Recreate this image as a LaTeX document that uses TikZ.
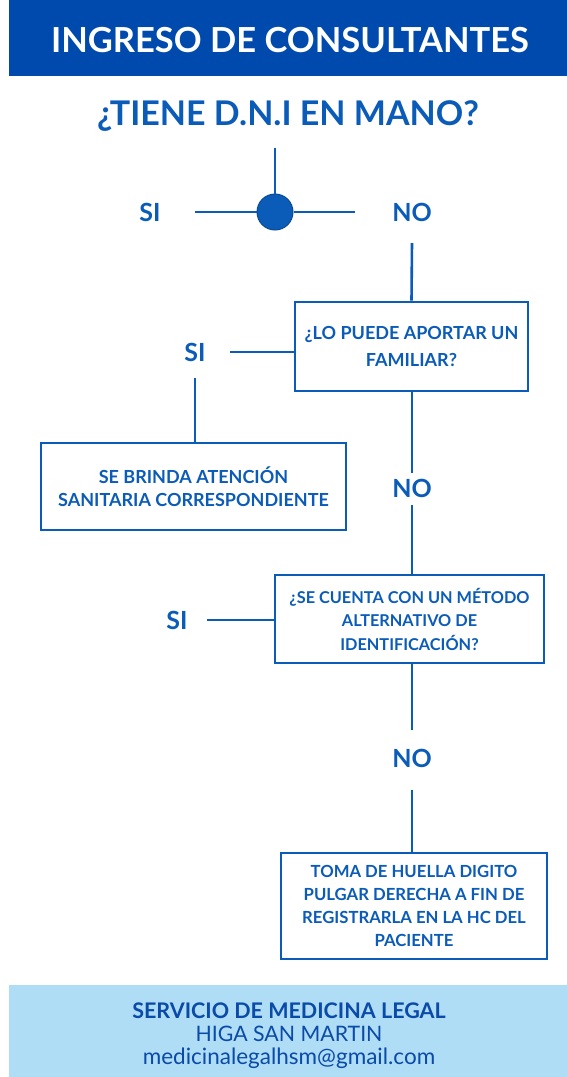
\documentclass[tikz,border=0pt]{standalone}
\usepackage{fontspec}
\setmainfont{Lato}
\definecolor{hdr}{HTML}{004AAD}
\definecolor{flow}{HTML}{0B5CB8}
\definecolor{foot}{HTML}{AFDDF6}
\definecolor{foottxt}{HTML}{0A4AA8}
\begin{document}
\begin{tikzpicture}[x=1pt,y=-1pt,
  line/.style={draw=flow,line width=2.6pt},
  box/.style={draw=flow,line width=2.6pt,rectangle,inner sep=0pt,align=center,text=flow,font=\fontsize{18}{23.5}\selectfont\bfseries},
  lbl/.style={text=flow,font=\fontsize{25}{28}\selectfont\bfseries,inner sep=0pt}]
\useasboundingbox (0,0) rectangle (567,1077);
\fill[white] (0,0) rectangle (567,1077);
% header
\fill[hdr] (9,0) rectangle (567,76);
\node[text=white,font=\fontsize{34.5}{38}\selectfont\bfseries] (title) at (290,40) {INGRESO DE CONSULTANTES};
\node[text=flow,font=\fontsize{34}{38}\selectfont\bfseries] (q) at (288,116) {¿TIENE D.N.I EN MANO?};
% junction
\coordinate (qtop) at (275,148);
\node[circle,fill=flow,draw=flow!80!black,line width=1pt,minimum size=36pt,inner sep=0pt] (dot) at (275,212) {};
\coordinate (hl) at (195,212);
\coordinate (hr) at (355,212);
\draw[line] (qtop) -- (dot.north);
\draw[line] (hl) -- (dot.west);
\draw[line] (dot.east) -- (hr);
\node[lbl] (si1) at (150,212) {SI};
\node[lbl] (no1) at (412,212) {NO};
% box1
\node[box,minimum width=233pt,minimum height=89pt,font=\fontsize{18}{27}\selectfont\bfseries] (b1) at (411.5,346.5) {¿LO PUEDE APORTAR UN\\FAMILIAR?};
\coordinate (n1b) at (412,243);
\draw[line] (n1b) -- (b1.north);
\node[lbl] (si2) at (195,352) {SI};
\coordinate (si2r) at (230,352);
\draw[line] (b1.west |- si2r) -- (si2r);
\coordinate (si2b) at (195,378);
% box2
\node[box,minimum width=305pt,minimum height=87pt] (b2) at (193.5,486.5) {SE BRINDA ATENCIÓN\\SANITARIA CORRESPONDIENTE};
\draw[line] (si2b) -- (b2.north -| si2b);
% NO 2
\node[lbl] (no2) at (412,488) {NO};
\coordinate (no2t) at (412,473);
\coordinate (no2b) at (412,505);
\draw[line] (b1.south -| no2t) -- (no2t);
% box3
\node[box,minimum width=269pt,minimum height=88pt,font=\fontsize{16.3}{23.5}\selectfont\bfseries] (b3) at (409.5,619) {¿SE CUENTA CON UN MÉTODO\\ALTERNATIVO DE\\IDENTIFICACIÓN?};
\draw[line] (no2b) -- (b3.north -| no2b);
\node[lbl] (si3) at (177,620) {SI};
\coordinate (si3r) at (207,620);
\draw[line] (b3.west |- si3r) -- (si3r);
% NO 3
\node[lbl] (no3) at (412,758) {NO};
\coordinate (no3t) at (412,730);
\coordinate (no3b) at (412,790);
\draw[line] (b3.south -| no3t) -- (no3t);
% box4
\node[box,minimum width=266pt,minimum height=106pt,font=\fontsize{16.7}{23}\selectfont\bfseries] (b4) at (414,906) {TOMA DE HUELLA DIGITO\\PULGAR DERECHA A FIN DE\\REGISTRARLA EN LA HC DEL\\PACIENTE};
\draw[line] (no3b) -- (b4.north -| no3b);
% footer
\fill[foot] (9,985) rectangle (567,1077);
\node[text=foottxt,font=\fontsize{21.5}{22}\selectfont\bfseries] (f1) at (289,1011) {SERVICIO DE MEDICINA LEGAL};
\node[text=foottxt,font=\fontsize{21.3}{22}\selectfont] (f2) at (289,1034) {HIGA SAN MARTIN};
\node[text=foottxt,font=\fontsize{22.5}{22}\selectfont] (f3) at (289,1058) {medicinalegalhsm@gmail.com};
\end{tikzpicture}
\end{document}
